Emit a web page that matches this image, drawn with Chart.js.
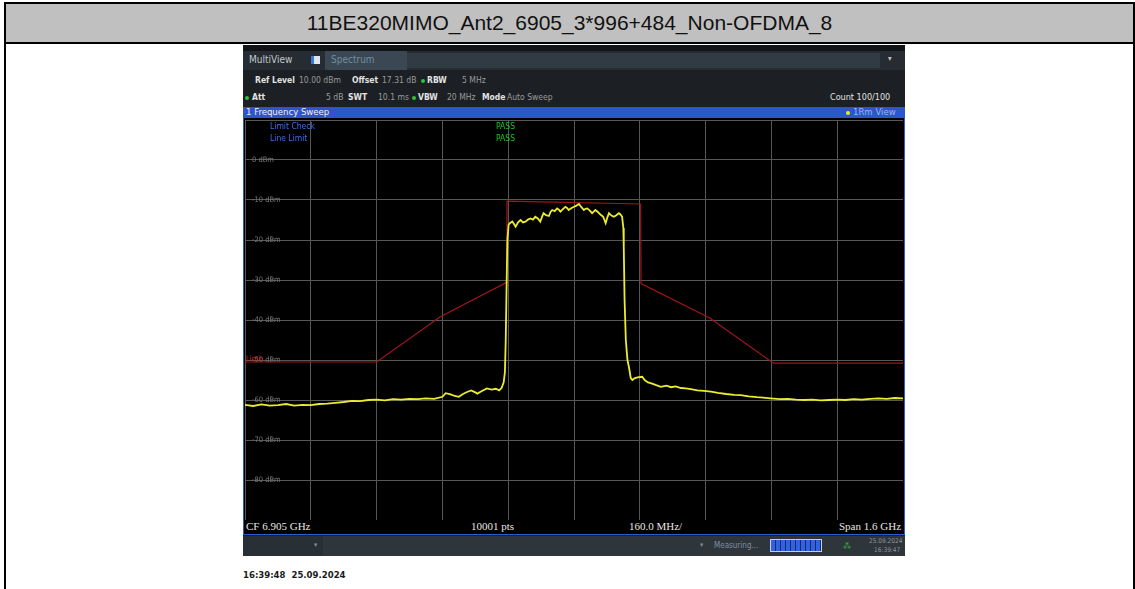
<!DOCTYPE html>
<html>
<head>
<meta charset="utf-8">
<script src="https://cdn.jsdelivr.net/npm/chart.js@4.4.1/dist/chart.umd.min.js"></script>
<style>
  html, body { margin: 0; padding: 0; background: #fff; }
  body { width: 1135px; height: 589px; position: relative; overflow: hidden; font-family: "DejaVu Sans Condensed", "DejaVu Sans", sans-serif; }
  .frame { position: absolute; left: 4px; top: 2px; width: 1127px; height: 600px; border-left: 2px solid #000; border-right: 2px solid #000; border-top: 2px solid #000; }
  .head { height: 38px; background: #c0c0c0; border-bottom: 2px solid #000; text-align: center; line-height: 38px; font-family: "Liberation Sans", Arial, sans-serif; font-size: 21px; color: #111; }
  .abs { position: absolute; white-space: nowrap; }
  .scr { position: absolute; left: 243px; top: 45px; width: 662px; height: 511px; background: #1c2024; }
  .lbl { color: #e2e2e2; font-weight: bold; font-size: 8.5px; }
  .val { color: #9a9a9a; font-size: 8.5px; }
  .dot { position: absolute; width: 4px; height: 4px; border-radius: 2px; background: #2fc23a; }
  .panel { position: absolute; left: 243px; top: 118px; width: 660px; height: 416px; background: #000; border-left: 1px solid #2d5bd3; border-right: 1px solid #2d5bd3; border-bottom: 1px solid #2d5bd3; }
  .foot { color: #e6e6e6; font-family: "Liberation Serif", serif; font-size: 11px; }
</style>
</head>
<body>
<div class="frame"><div class="head">11BE320MIMO_Ant2_6905_3*996+484_Non-OFDMA_8</div></div>

<div class="scr">
  <div class="abs" style="left:0;top:0;width:662px;height:6px;background:#101417"></div>
  <div class="abs" style="left:0;top:6px;width:662px;height:19px;background:#262c31"></div>
  <div class="abs" style="left:82px;top:6px;width:82px;height:19px;background:#3b4853"></div>
  <div class="abs" style="left:164px;top:8px;width:473px;height:15px;background:#313b43"></div>
  <div class="abs" style="left:6px;top:9px;font-size:10px;color:#c4c8cc">MultiView</div>
  <div class="abs" style="left:68px;top:11px;width:6px;height:8px;background:#dfe6ee;border-left:3px solid #3a78d8"></div>
  <div class="abs" style="left:88px;top:9px;font-size:10px;color:#6f8ea0">Spectrum</div>
  <div class="abs" style="left:645px;top:9px;font-size:8px;color:#c0c0c0">▾</div>
</div>

<!-- info rows -->
<div class="abs lbl" style="left:255px;top:75px">Ref Level</div>
<div class="abs val" style="left:299px;top:75px">10.00 dBm</div>
<div class="abs lbl" style="left:352px;top:75px">Offset</div>
<div class="abs val" style="left:382px;top:75px">17.31 dB</div>
<div class="dot" style="left:421px;top:79px"></div>
<div class="abs lbl" style="left:427px;top:75px">RBW</div>
<div class="abs val" style="left:462px;top:75px">5 MHz</div>

<div class="dot" style="left:245px;top:96px"></div>
<div class="abs lbl" style="left:252px;top:92px">Att</div>
<div class="abs val" style="left:326px;top:92px">5 dB</div>
<div class="abs lbl" style="left:348px;top:92px">SWT</div>
<div class="abs val" style="left:378px;top:92px">10.1 ms</div>
<div class="dot" style="left:412px;top:96px"></div>
<div class="abs lbl" style="left:418px;top:92px">VBW</div>
<div class="abs val" style="left:447px;top:92px">20 MHz</div>
<div class="abs lbl" style="left:482px;top:92px">Mode</div>
<div class="abs val" style="left:507px;top:92px">Auto Sweep</div>
<div class="abs" style="left:830px;top:92px;font-size:9px;color:#e0e0e0">Count 100/100</div>

<!-- blue title bar -->
<div class="abs" style="left:243px;top:107px;width:662px;height:11px;background:#2b57c9"></div>
<div class="abs" style="left:246px;top:106px;font-size:9.5px;color:#f0f0f0">1 Frequency Sweep</div>
<div class="dot" style="left:846px;top:111px;background:#f2e829"></div>
<div class="abs" style="left:853px;top:106px;font-size:9.5px;color:#9ab4f0">1Rm View</div>

<div class="panel">
  <canvas id="spectrum" width="658" height="400" style="position:absolute;left:1px;top:2px"></canvas>
  <div class="abs foot" style="left:2px;top:402px">CF 6.905 GHz</div>
  <div class="abs foot" style="left:227px;top:402px">10001 pts</div>
  <div class="abs foot" style="left:385px;top:402px">160.0 MHz/</div>
  <div class="abs foot" style="left:595px;top:402px">Span 1.6 GHz</div>
</div>

<!-- overlays inside plot -->
<div class="abs" style="left:270px;top:121px;font-size:8.5px;color:#3f6fe0">Limit Check</div>
<div class="abs" style="left:270px;top:133px;font-size:8.5px;color:#3f6fe0">Line Limit</div>
<div class="abs" style="left:496px;top:121px;font-size:8.5px;color:#25c02a">PASS</div>
<div class="abs" style="left:496px;top:133px;font-size:8.5px;color:#25c02a">PASS</div>
<div class="abs" style="left:246px;top:354px;font-size:7.5px;color:#d02020">Limit</div>

<!-- bottom status bar -->
<div class="abs" style="left:243px;top:536px;width:662px;height:20px;background:#2e353b"></div>
<div class="abs" style="left:243px;top:536px;width:80px;height:20px;background:#283036"></div>
<div class="abs" style="left:314px;top:541px;font-size:7px;color:#8a9096">▾</div>
<div class="abs" style="left:700px;top:541px;font-size:7px;color:#8a9096">▾</div>
<div class="abs" style="left:714px;top:541px;font-size:8px;color:#7f8fa0">Measuring...</div>
<div class="abs" style="left:770px;top:539px;width:50px;height:11px;border:1px solid #c8d0e0;background:repeating-linear-gradient(90deg,#2f62e6 0 4px,#1b2a60 4px 5px)"></div>
<div class="abs" style="left:843px;top:541px;font-size:9px;color:#2fc23a">⁂</div>
<div class="abs" style="left:869px;top:537px;font-size:6.5px;color:#8d949a">25.09.2024</div>
<div class="abs" style="left:874px;top:546px;font-size:6.5px;color:#8d949a">16:39:47</div>

<div class="abs" style="left:243px;top:569px;font-size:9.5px;font-weight:bold;color:#1a1a1a">16:39:48&nbsp; 25.09.2024</div>

<script>
// Frequency offsets from CF 6.905 GHz (MHz) and trace level (dBm)
const traceMHz = [
  -800, -780, -760, -740, -720, -700, -680, -660, -640, -620,
  -600, -580, -560, -540, -520, -500, -480, -460, -440, -420,
  -400, -380, -360, -340, -320, -312, -300, -290, -280, -270,
  -260, -250, -240, -235, -225, -212, -200, -190, -182, -176,
  -171, -168, -166, -164, -162, -159, -156, -150, -146, -142,
  -136, -130, -124, -118, -112, -106, -100, -94, -88, -82,
  -78, -74, -68, -61, -57, -53, -47, -41, -37, -33,
  -27, -21, -17, -13, -6, 0, 6, 12, 18, 24,
  28, 32, 38, 44, 48, 52, 58, 65, 71, 77,
  81, 85, 91, 97, 103, 109, 113, 117, 120, 121,
  123, 126, 130, 134, 138, 142, 147, 152, 158, 166,
  170, 174, 180, 190, 200, 211, 225, 236, 247, 260,
  272, 284, 300, 316, 333, 350, 370, 390, 405, 425,
  445, 460, 478, 500, 520, 540, 560, 580, 600, 620,
  640, 660, 680, 700, 720, 740, 760, 780, 800
];
const traceDbm = [
  -61.2, -61.5, -61.1, -61.4, -61.3, -61.0, -61.4, -61.2, -61.3, -61.0,
  -60.9, -60.7, -60.5, -60.2, -60.3, -60.0, -59.9, -60.1, -59.8, -59.9,
  -59.7, -59.8, -59.6, -59.7, -59.2, -58.3, -58.6, -59.0, -59.2, -58.5,
  -58.0, -57.6, -58.1, -58.4, -57.8, -57.1, -57.4, -57.2, -57.6, -57.0,
  -55.6, -53.0, -45.0, -32.0, -20.0, -16.2, -15.8, -15.4, -16.0, -16.7,
  -15.6, -15.0, -15.6, -15.4, -14.9, -14.6, -14.9, -14.2, -14.6, -15.4,
  -14.3, -13.3, -13.8, -14.0, -13.0, -12.5, -12.8, -12.1, -12.4, -12.9,
  -12.3, -11.7, -12.0, -12.5, -12.0, -11.7, -11.4, -11.0, -11.8, -12.5,
  -12.2, -12.1, -12.6, -13.3, -12.9, -12.5, -13.0, -13.7, -14.2, -15.8,
  -14.4, -13.3, -13.9, -14.2, -13.8, -13.3, -13.6, -14.2, -17.0, -21.7,
  -35.0, -45.0, -50.0, -52.0, -54.5, -55.0, -54.6, -54.4, -54.3, -54.2,
  -54.8, -55.2, -55.6, -55.9, -56.3, -56.7, -56.4, -56.8, -56.6, -57.0,
  -57.1, -57.3, -57.6, -57.7, -57.9, -58.2, -58.5, -58.7, -58.8, -59.1,
  -59.3, -59.4, -59.6, -59.8, -59.7, -59.9, -60.0, -59.9, -60.1, -60.0,
  -59.9, -60.0, -59.8, -59.9, -59.7, -59.6, -59.7, -59.5, -59.6
];

// Spectrum emission mask limit line
const limitMHz = [-800, -480, -325, -164, -163, 162, 163, 330, 485, 800];
const limitDbm = [-50.5, -50.5, -39.2, -30.6, -10.3, -11.0, -30.9, -39.5, -50.8, -50.8];

const toPoints = (xs, ys) => xs.map((x, i) => ({ x, y: ys[i] }));

// Keep the plot area on the whole canvas (no room for axes or label padding)
const noRoom = s => {
  s.paddingTop = 0;
  s.paddingBottom = 0;
  s.paddingLeft = 0;
  s.paddingRight = 0;
  if (s.isHorizontal()) s.height = 0; else s.width = 0;
};

new Chart(document.getElementById("spectrum"), {
  type: "line",
  data: {
    datasets: [
      {
        label: "1Rm",
        data: toPoints(traceMHz, traceDbm),
        borderColor: "#ecec2e",
        borderWidth: 1.8,
        pointRadius: 0,
        tension: 0
      },
      {
        label: "Limit",
        data: toPoints(limitMHz, limitDbm),
        borderColor: "#a01616",
        borderWidth: 1.2,
        pointRadius: 0,
        tension: 0
      }
    ]
  },
  options: {
    responsive: false,
    animation: false,
    layout: { padding: 0 },
    plugins: {
      legend: { display: false },
      tooltip: { enabled: false }
    },
    scales: {
      x: {
        type: "linear",
        min: -800,
        max: 800,
        ticks: { display: false, stepSize: 160 },
        grid: { color: "#575757", drawTicks: false },
        border: { display: false },
        afterFit: noRoom
      },
      y: {
        min: -90,
        max: 10,
        ticks: {
          stepSize: 10,
          mirror: true,
          padding: 7,
          color: "#7a7a7a",
          font: { family: "DejaVu Sans Condensed", size: 7.5 },
          callback: v => (v === 10 || v === -90) ? "" : `${v} dBm`
        },
        grid: { color: "#575757", drawTicks: false },
        border: { display: false },
        afterFit: noRoom
      }
    }
  }
});
</script>
</body>
</html>
